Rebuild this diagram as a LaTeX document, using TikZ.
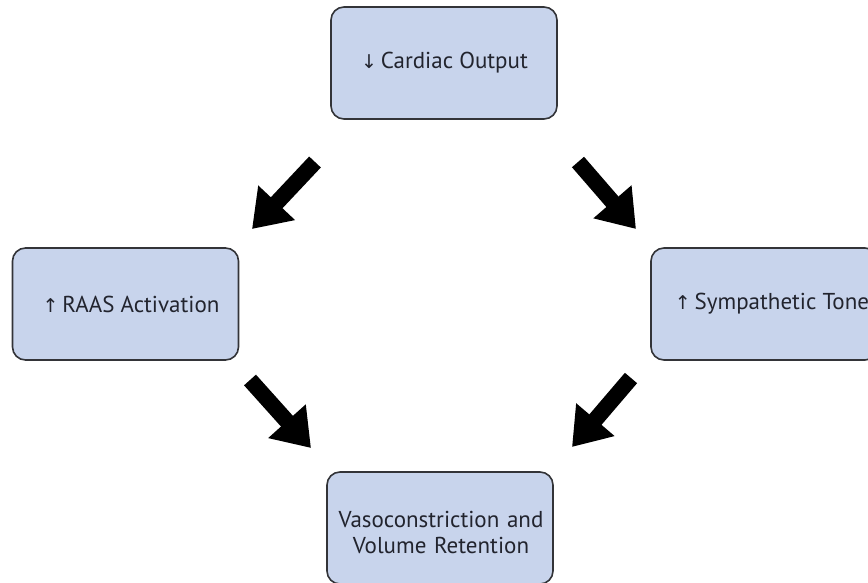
\documentclass[tikz,border=0pt]{standalone}
\usepackage{fontspec}
\setmainfont{PT Sans}
\newfontfamily\arrowfont{DejaVu Sans}
\usetikzlibrary{arrows.meta}
\definecolor{boxfill}{HTML}{C8D4EC}
\definecolor{boxline}{HTML}{333438}
\definecolor{txt}{HTML}{22242E}
\tikzset{
  flowbox/.style={draw=boxline, line width=1.6pt, fill=boxfill, rounded corners=13pt,
    minimum width=226pt, minimum height=112pt, inner sep=0pt},
  lbl/.style={text=txt, font=\fontsize{23}{26}\selectfont, align=center, inner sep=0pt},
  bigarrow/.style={line width=16pt, draw=black, -{Triangle[width=48pt,length=36pt]}},
}
\newcommand{\dn}{{\arrowfont\fontsize{19}{19}\selectfont ↓}}
\newcommand{\upa}{{\arrowfont\fontsize{19}{19}\selectfont ↑}}
\begin{document}
\begin{tikzpicture}[x=1pt,y=-1pt]
\useasboundingbox (0,0) rectangle (868,583);
\node[flowbox] (top) at (444,63) {};
\node[flowbox] (left) at (125.5,304) {};
\node[flowbox, minimum width=227pt] (right) at (764.5,304) {};
\node[flowbox] (bottom) at (440,528) {};
\node[lbl] (toplbl) at (444.5,63) {\dn\,Cardiac Output};
\node[lbl] (leftlbl) at (131,304) {\upa\,RAAS Activation};
\node[lbl] (rightlbl) at (772,304) {\upa\,Sympathetic Tone};
\node[lbl, text width=240pt] (bottomlbl) at (441,532) {Vasoconstriction and\\Volume Retention};
\coordinate (a1s) at (315,162);
\coordinate (a1e) at (252,229);
\coordinate (a2s) at (578,162);
\coordinate (a2e) at (636,229);
\coordinate (a3s) at (250,380);
\coordinate (a3e) at (311,448);
\coordinate (a4s) at (631,378);
\coordinate (a4e) at (572,447);
\draw[bigarrow] (a1s) -- (a1e);
\draw[bigarrow] (a2s) -- (a2e);
\draw[bigarrow] (a3s) -- (a3e);
\draw[bigarrow] (a4s) -- (a4e);
\end{tikzpicture}
\end{document}
